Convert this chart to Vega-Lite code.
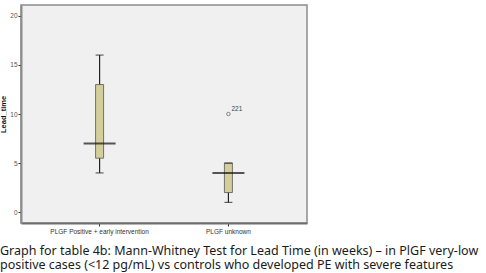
{
  "$schema": "https://vega.github.io/schema/vega-lite/v6.json",
  "width": 286,
  "height": 218,
  "autosize": "none",
  "padding": {"left": 21, "top": 5, "right": 179, "bottom": 50},
  "background": "white",
  "config": {
    "view": {"fill": "#f0f0f0", "stroke": "#8c8c8c", "strokeWidth": 1.5},
    "font": "Liberation Sans"
  },
  "title": {
    "text": ["Graph for table 4b: Mann-Whitney Test for Lead Time (in weeks) – in PlGF very-low", "positive cases (<12 pg/mL) vs controls who developed PE with severe features"],
    "orient": "bottom",
    "anchor": "start",
    "frame": "group",
    "font": "Noto Sans",
    "fontSize": 12.5,
    "fontWeight": "normal",
    "color": "#1a1a1a",
    "lineHeight": 14,
    "dx": -21,
    "offset": 10
  },
  "datasets": {
    "boxes": [
      {"group": "PLGF Positive + early intervention", "min": 4, "q1": 5.5, "median": 7, "q3": 13, "max": 16},
      {"group": "PLGF unknown", "min": 1, "q1": 2, "median": 4, "q3": 5, "max": 5}
    ],
    "outliers": [
      {"group": "PLGF unknown", "value": 10, "id": "221"}
    ]
  },
  "encoding": {
    "x": {
      "field": "group", "type": "nominal", "sort": null,
      "scale": {"domain": ["PLGF Positive + early intervention", "PLGF unknown"], "paddingInner": 0, "paddingOuter": 0.11},
      "axis": {"title": null, "labelAngle": 0, "labelFontSize": 6.5, "labelColor": "#333", "tickSize": 3, "tickColor": "#333", "domainColor": "#6e6e6e", "domainWidth": 2, "labelPadding": 2}
    }
  },
  "layer": [
    {
      "data": {"name": "boxes"},
      "mark": {"type": "rule", "color": "#222", "strokeWidth": 1.2},
      "encoding": {
        "y": {"field": "min", "type": "quantitative",
          "scale": {"domain": [-1.1, 21.1], "nice": false, "zero": false},
          "axis": {"title": "Lead_time", "titleFontSize": 7.5, "titleFontWeight": "bold", "titleColor": "#111", "titlePadding": 2, "values": [0, 5, 10, 15, 20], "labelFontSize": 6.5, "labelColor": "#555", "tickSize": 3, "tickColor": "#333", "domainColor": "#8c8c8c", "domainWidth": 2, "grid": false, "labelPadding": 1}},
        "y2": {"field": "max"}
      }
    },
    {
      "data": {"name": "boxes"},
      "mark": {"type": "bar", "size": 8, "fill": "#d4ce9a", "stroke": "#555", "strokeWidth": 0.8},
      "encoding": {
        "y": {"field": "q1", "type": "quantitative"},
        "y2": {"field": "q3"}
      }
    },
    {
      "data": {"name": "boxes"},
      "mark": {"type": "tick", "size": 8, "thickness": 1.2, "color": "#222"},
      "encoding": {"y": {"field": "min", "type": "quantitative"}}
    },
    {
      "data": {"name": "boxes"},
      "mark": {"type": "tick", "size": 8, "thickness": 1.2, "color": "#222"},
      "encoding": {"y": {"field": "max", "type": "quantitative"}}
    },
    {
      "data": {"name": "boxes"},
      "mark": {"type": "tick", "size": 32, "thickness": 2, "color": "#111"},
      "encoding": {"y": {"field": "median", "type": "quantitative"}}
    },
    {
      "data": {"name": "outliers"},
      "mark": {"type": "point", "shape": "circle", "filled": false, "size": 12, "stroke": "#555", "strokeWidth": 1},
      "encoding": {"y": {"field": "value", "type": "quantitative"}}
    },
    {
      "data": {"name": "outliers"},
      "mark": {"type": "text", "fontSize": 6.5, "color": "#444", "dx": 3, "dy": -5, "align": "left"},
      "encoding": {"y": {"field": "value", "type": "quantitative"}, "text": {"field": "id"}}
    }
  ]
}
